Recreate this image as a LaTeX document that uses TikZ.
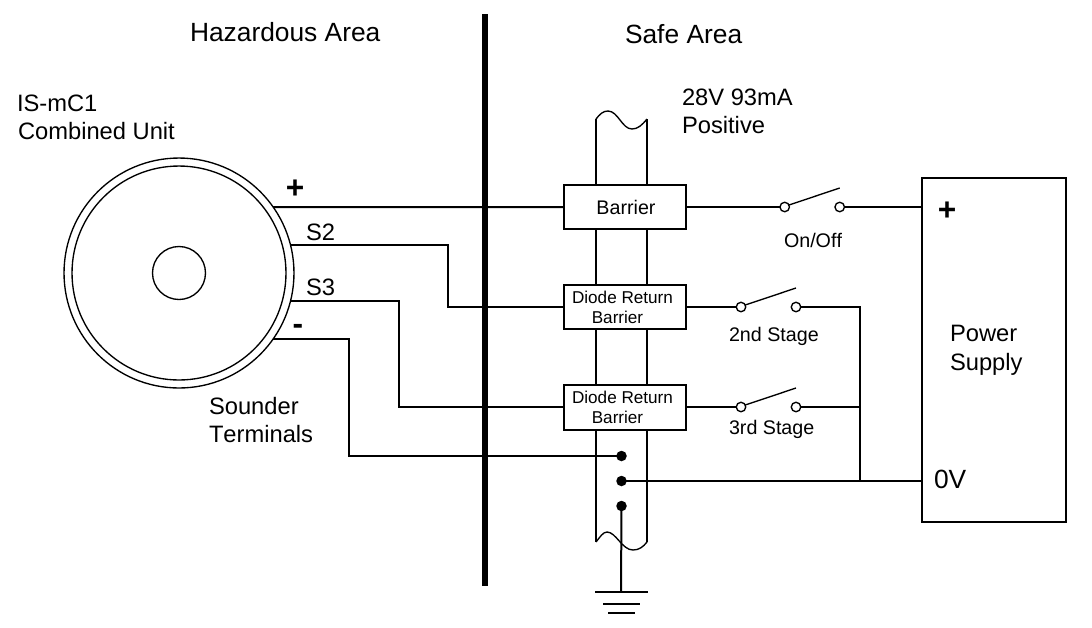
\documentclass[tikz,border=0pt]{standalone}
\usepackage{fontspec}
\setmainfont[Kerning=Off]{Liberation Sans}
\usetikzlibrary{calc}

\tikzset{
  wire/.style={line width=0.04cm},
  thinline/.style={line width=0.027cm},
  barrierbox/.style={draw, wire, fill=white, inner sep=0pt, outer sep=0pt, minimum width=2.44cm, align=center},
  terminal/.style={circle, draw, thinline, fill=white, inner sep=0pt, outer sep=0pt, minimum size=0.19cm},
  blackdot/.style={circle, fill=black, inner sep=0pt, outer sep=0pt, minimum size=0.21cm},
  ring/.style={circle, draw, thinline, inner sep=0pt, outer sep=0pt},
  txt/.style={anchor=base west, inner sep=0pt, outer sep=0pt, font=\fontsize{13.5pt}{16pt}\selectfont},
  bigtxt/.style={txt, font=\fontsize{15pt}{18pt}\selectfont},
  smalltxt/.style={txt, font=\fontsize{11.2pt}{13pt}\selectfont},
  signtxt/.style={anchor=center, inner sep=0pt, outer sep=0pt, font=\bfseries\fontsize{18pt}{20pt}\selectfont}
}

\begin{document}
\begin{tikzpicture}[x=0.02cm, y=-0.02cm]
\useasboundingbox (0,0) rectangle (1092,627);

% First, define nodes
\draw (179,273) node[ring, minimum size=4.6cm] (unit) {};
\draw (179,273) node[ring, minimum size=4.28cm] (unitin) {};
\draw (179,273) node[ring, minimum size=1.06cm] (unithub) {};

% The strip behind the barriers, with its two torn ends
\draw[thinline] (596,119) .. controls (600,114) and (603,111) .. (608,111)
  .. controls (618,111) and (622,129) .. (632,129)
  .. controls (638,129) and (642,125) .. (647,119);
\draw[thinline] (596,542) .. controls (600,537) and (603,532) .. (607,532)
  .. controls (616,532) and (622,550) .. (633,550)
  .. controls (639,550) and (643,547) .. (647,542);
\draw[wire] (596,119) -- (596,542) (647,119) -- (647,542);

\draw (625,207) node[barrierbox, minimum height=0.88cm, font=\fontsize{11.2pt}{13pt}\selectfont] (barrier) {Barrier\hspace*{-0.04cm}};
\draw (625,307) node[barrierbox, minimum height=0.88cm, font=\fontsize{9.75pt}{11.4pt}\selectfont] (diodeA) {Diode Return\hspace*{0.1cm}\\Barrier\hspace*{0.3cm}};
\draw (625,407) node[barrierbox, minimum height=0.9cm, font=\fontsize{9.75pt}{11.4pt}\selectfont] (diodeB) {Diode Return\hspace*{0.1cm}\\Barrier\hspace*{0.3cm}};

\draw (621.5,456) node[blackdot] (dotA) {};
\draw (621.5,481) node[blackdot] (dotB) {};
\draw (621.5,506) node[blackdot] (dotC) {};

\draw (784.7,207) node[terminal] (onL) {};
\draw (839.7,207) node[terminal] (onR) {};
\draw (741,307) node[terminal] (stageAL) {};
\draw (796,307) node[terminal] (stageAR) {};
\draw (741,407) node[terminal] (stageBL) {};
\draw (796,407) node[terminal] (stageBR) {};

\draw (994,350) node[draw, wire, inner sep=0pt, outer sep=0pt, minimum width=2.88cm, minimum height=6.88cm] (supply) {};

\coordinate (gndtop) at (621,592);
\coordinate (onarm) at (839.7,188);
\coordinate (stageAarm) at (796,288);
\coordinate (stageBarm) at (796,388);
\coordinate (join) at (860,481);

% Hazardous / safe divider
\draw[line width=0.12cm] (485,14) -- (485,586);

% Wires from the unit to the barriers
\draw[wire] (unit.35) -- (barrier.west);
\draw[wire] (unit.14) -| (448,280) |- (diodeA.west);
\draw[wire] (unit.-14) -| (399,350) |- (diodeB.west);
\draw[wire] (unit.-35) -| (349,400) |- (dotA.center);

% Barriers to the switches and the supply
\draw[wire] (barrier.east) -- (onL.west);
\draw[wire] (onR.east) -- (onR -| supply.west);
\draw[wire] (diodeA.east) -- (stageAL.west);
\draw[wire] (diodeB.east) -- (stageBL.west);
\draw[wire] (stageAR.east) -| (join);
\draw[wire] (stageBR.east) -- (stageBR -| join);
\draw[wire] (dotB.center) -- (dotB -| supply.west);

% The switch arms
\draw[thinline] (onL.25) -- (onarm);
\draw[thinline] (stageAL.25) -- (stageAarm);
\draw[thinline] (stageBL.25) -- (stageBarm);

% Earth
\draw[wire] (dotC.center) -- (gndtop);
\draw[thinline] (595,592) -- (648,592);
\draw[thinline] (603,604) -- (640,604);
\draw[thinline] (608,613) -- (635,613);

% Texts
\node[bigtxt] (hazard) at (190,41) {Hazardous Area};
\node[bigtxt] (safe) at (625,43) {Safe Area};
\node[txt] (isname) at (17,111) {IS-mC1};
\node[txt] (combined) at (18,139) {Combined Unit};
\node[txt] (rating) at (682,105) {28V 93mA};
\node[txt] (positive) at (682,133) {Positive};
\node[smalltxt] (onoff) at (784,247) {On/Off};
\node[smalltxt] (stageA) at (729,341) {2nd Stage};
\node[smalltxt] (stageB) at (729,434) {3rd Stage};
\node[txt] (stwo) at (306,240) {S2};
\node[txt] (sthree) at (306,295) {S3};
\node[txt] (sounder) at (209,414) {Sounder};
\node[txt] (terminals) at (209,442) {Terminals};
\node[txt] (power) at (950,341) {Power};
\node[txt] (psupply) at (950,370) {Supply};
\node[bigtxt] (zerov) at (934,488) {0V};
\node[signtxt] (plusu) at (295,189) {+};
\node[signtxt] (minusu) at (298,329) {-};
\node[signtxt] (pluss) at (947,211) {+};
\end{tikzpicture}
\end{document}
